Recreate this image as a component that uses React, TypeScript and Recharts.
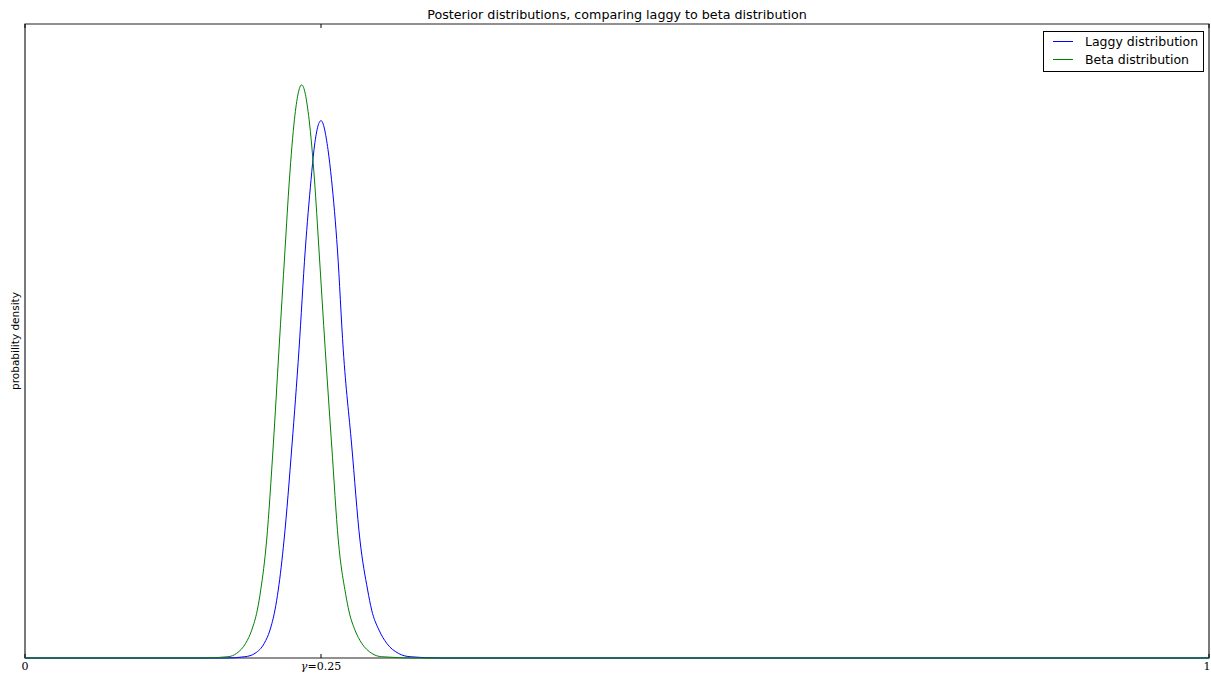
import { LineChart, Line, XAxis, YAxis, ReferenceArea, ReferenceLine } from 'recharts'

// Posterior density curves, sampled along gamma in [0, 1]
const betaX = [0, 0.15, 0.1715, 0.1788, 0.1864, 0.1915, 0.1962, 0.1991, 0.2041, 0.2097, 0.2145, 0.2196, 0.2233, 0.2276, 0.2337, 0.2399, 0.2445, 0.2483, 0.2536, 0.259, 0.2646, 0.2709, 0.2736, 0.2787, 0.2844, 0.2928, 0.3013, 0.33, 1]
const betaY = [0, 0, 0.05, 0.185, 0.58, 1.1, 1.89, 2.68, 4.65, 8.4, 12.15, 16.09, 18.85, 21.25, 22.6, 21.25, 18.85, 16.09, 12.15, 8.4, 4.65, 2.5, 1.85, 1.1, 0.58, 0.185, 0.05, 0, 0]

const laggyX = [0, 0.17, 0.1858, 0.1943, 0.2021, 0.2069, 0.2111, 0.2139, 0.2188, 0.2255, 0.2314, 0.2367, 0.2416, 0.2441, 0.25, 0.2559, 0.2589, 0.2639, 0.2688, 0.2759, 0.2829, 0.2894, 0.2928, 0.299, 0.3055, 0.3153, 0.3252, 0.35, 1]
const laggyY = [0, 0, 0.05, 0.185, 0.58, 1.1, 1.89, 2.68, 4.65, 8.4, 12.15, 16.09, 18.86, 20.05, 21.19, 20.05, 18.86, 16.09, 12.15, 8.4, 4.65, 2.68, 1.89, 1.1, 0.58, 0.185, 0.05, 0, 0]

const xTicks = [0, 0.25, 1]
const yMax = 25
const tickLen = 0.16

const laggyData = laggyX.map((x, i) => ({ x, density: laggyY[i] }))
const betaData = betaX.map((x, i) => ({ x, density: betaY[i] }))

const W = 1211
const H = 674

function TickLabel(props: any) {
  const { x, payload } = props
  const v = payload.value
  const font = '"DejaVu Serif", "Liberation Serif", serif'
  if (v === 0.25) {
    return (
      <text x={x} y={669.5} textAnchor="middle" fontFamily={font} fontSize={11} fill="#000">
        <tspan fontStyle="italic">γ</tspan>
        <tspan>=0.25</tspan>
      </text>
    )
  }
  return (
    <text x={x} y={669.5} textAnchor="middle" fontFamily={font} fontSize={11} fill="#000">
      {String(v)}
    </text>
  )
}

export default function App() {
  const sans = '"DejaVu Sans", sans-serif'
  return (
    <div style={{ position: 'relative', width: W, height: H, background: '#fff', fontFamily: sans }}>
      <style>{'body{margin:0}'}</style>
      <div style={{ position: 'absolute', left: 25, width: 1184, top: 7, textAlign: 'center', fontSize: 12.7, color: '#000' }}>
        Posterior distributions, comparing laggy to beta distribution
      </div>
      <div
        style={{
          position: 'absolute', left: 15, top: 341, transform: 'translate(-50%, -50%) rotate(-90deg)',
          fontSize: 10.5, whiteSpace: 'nowrap', color: '#000',
        }}
      >
        probability density
      </div>
      <LineChart width={W} height={H} margin={{ top: 24, right: 2, bottom: 0, left: 25 }} style={{ position: 'absolute', left: 0, top: 0 }}>
        <XAxis
          dataKey="x"
          type="number"
          domain={[0, 1]}
          ticks={xTicks}
          height={16}
          axisLine={false}
          tickLine={false}
          tick={<TickLabel />}
          allowDuplicatedCategory={false}
        />
        <YAxis hide domain={[0, yMax]} type="number" />
        {xTicks.map(t => (
          <ReferenceLine key={'b' + t} segment={[{ x: t, y: 0 }, { x: t, y: tickLen }]} stroke="#000" />
        ))}
        {xTicks.map(t => (
          <ReferenceLine key={'t' + t} segment={[{ x: t, y: yMax }, { x: t, y: yMax - tickLen }]} stroke="#000" />
        ))}
        <Line data={laggyData} dataKey="density" type="monotone" stroke="#0000ff" strokeWidth={1} dot={false} activeDot={false} isAnimationActive={false} />
        <Line data={betaData} dataKey="density" type="monotone" stroke="#008000" strokeWidth={1} dot={false} activeDot={false} isAnimationActive={false} />
        <ReferenceArea x1={0} x2={1} y1={0} y2={yMax} fill="none" stroke="#222" strokeWidth={1.2} />
      </LineChart>
      <div
        style={{
          position: 'absolute', left: 1043, top: 31, width: 161, height: 41, boxSizing: 'border-box',
          border: '1px solid #000', background: '#fff', fontSize: 12.5, color: '#000',
        }}
      >
        {[
          { name: 'Laggy distribution', color: '#0000ff' },
          { name: 'Beta distribution', color: '#008000' },
        ].map((e, i) => (
          <div key={e.name} style={{ position: 'absolute', left: 0, top: 0 + i * 18, height: 18, display: 'flex', alignItems: 'center' }}>
            <span style={{ display: 'inline-block', width: 20, height: 1, background: e.color, marginLeft: 9, marginRight: 12 }} />
            <span style={{ whiteSpace: 'nowrap' }}>{e.name}</span>
          </div>
        ))}
      </div>
    </div>
  )
}
